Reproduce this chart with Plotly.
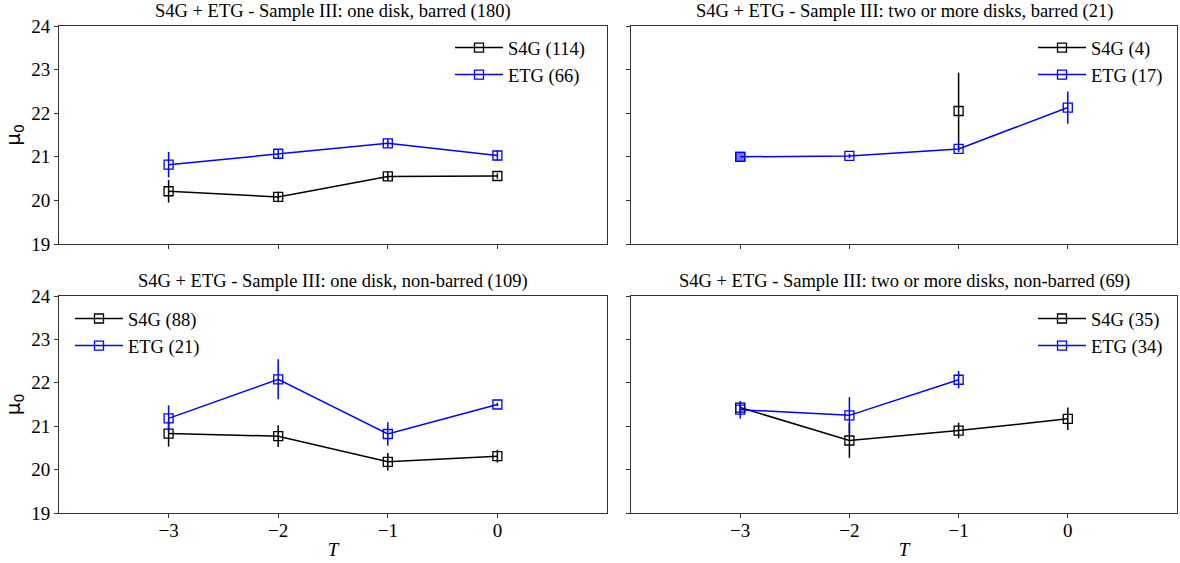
import plotly.graph_objects as go

# ---------------- data ----------------
# panel 1: one disk, barred (180)
p1_s4g_T = [-3, -2, -1, 0]
p1_s4g_mu = [20.21, 20.08, 20.55, 20.56]
p1_s4g_err = [0.26, 0.12, 0.10, 0.06]
p1_etg_T = [-3, -2, -1, 0]
p1_etg_mu = [20.82, 21.07, 21.31, 21.03]
p1_etg_err = [0.29, 0.10, 0.10, 0.12]

# panel 2: two or more disks, barred (21)
p2_s4g_T = [-1]
p2_s4g_mu = [22.05]
p2_s4g_err = [0.88]
p2_etg_T = [-3, -2, -1, 0]
p2_etg_mu = [21.00, 21.02, 21.18, 22.13]
p2_etg_err = [0.0, 0.05, 0.07, 0.37]

# panel 3: one disk, non-barred (109)
p3_s4g_T = [-3, -2, -1, 0]
p3_s4g_mu = [20.83, 20.77, 20.18, 20.31]
p3_s4g_err = [0.30, 0.25, 0.20, 0.15]
p3_etg_T = [-3, -2, -1, 0]
p3_etg_mu = [21.18, 22.08, 20.82, 21.50]
p3_etg_err = [0.30, 0.46, 0.27, 0.04]

# panel 4: two or more disks, non-barred (69)
p4_s4g_T = [-3, -2, -1, 0]
p4_s4g_mu = [21.43, 20.67, 20.90, 21.17]
p4_s4g_err = [0.10, 0.40, 0.18, 0.26]
p4_etg_T = [-3, -2, -1]
p4_etg_mu = [21.38, 21.25, 22.07]
p4_etg_err = [0.20, 0.42, 0.20]

titles = [
    "S4G + ETG - Sample III: one disk, barred (180)",
    "S4G + ETG - Sample III: two or more disks, barred (21)",
    "S4G + ETG - Sample III: one disk, non-barred (109)",
    "S4G + ETG - Sample III: two or more disks, non-barred (69)",
]
s4g_names = ["S4G (114)", "S4G (4)", "S4G (88)", "S4G (35)"]
etg_names = ["ETG (66)", "ETG (17)", "ETG (21)", "ETG (34)"]
y_ticks = [19, 20, 21, 22, 23, 24]
x_ticks = [-3, -2, -1, 0]
x_ticklabels = ["\u22123", "\u22122", "\u22121", "0"]

panels = [
    (p1_s4g_T, p1_s4g_mu, p1_s4g_err, p1_etg_T, p1_etg_mu, p1_etg_err),
    (p2_s4g_T, p2_s4g_mu, p2_s4g_err, p2_etg_T, p2_etg_mu, p2_etg_err),
    (p3_s4g_T, p3_s4g_mu, p3_s4g_err, p3_etg_T, p3_etg_mu, p3_etg_err),
    (p4_s4g_T, p4_s4g_mu, p4_s4g_err, p4_etg_T, p4_etg_mu, p4_etg_err),
]

W, H = 1180, 563
FONT = "'Liberation Serif', 'DejaVu Serif', 'Times New Roman', serif"

# pixel boxes of the panels (left, right, top, bottom)
boxes = [(59, 607, 26, 244), (631, 1177, 26, 244),
         (59, 607, 296, 513), (631, 1177, 296, 513)]

fig = go.Figure()
legend_ids = ["legend", "legend2", "legend3", "legend4"]

for i, (sT, smu, serr, eT, emu, eerr) in enumerate(panels):
    xa = "x" if i == 0 else f"x{i+1}"
    ya = "y" if i == 0 else f"y{i+1}"
    fig.add_trace(go.Scatter(
        x=sT, y=smu, mode="lines+markers", name=s4g_names[i],
        xaxis=xa, yaxis=ya, legend=legend_ids[i],
        line=dict(color="black", width=1.5),
        marker=dict(symbol="square-open", size=9, color="black", line=dict(width=1.3)),
        error_y=dict(type="data", array=serr, visible=True, color="black", thickness=1.5, width=0),
    ))
    fig.add_trace(go.Scatter(
        x=eT, y=emu, mode="lines+markers", name=etg_names[i],
        xaxis=xa, yaxis=ya, legend=legend_ids[i],
        line=dict(color="blue", width=1.5),
        marker=dict(symbol="square-open", size=9, color="blue", line=dict(width=1.3)),
        error_y=dict(type="data", array=eerr, visible=True, color="blue", thickness=1.5, width=0),
    ))
    # points with zero error look filled in the reference
    zT = [t for t, e in zip(eT, eerr) if e == 0]
    zmu = [m for m, e in zip(emu, eerr) if e == 0]
    if zT:
        fig.add_trace(go.Scatter(
            x=zT, y=zmu, mode="markers", showlegend=False,
            xaxis=xa, yaxis=ya,
            marker=dict(symbol="square", size=9, color="rgba(0,0,255,0.55)",
                        line=dict(width=1.3, color="blue")),
        ))

layout = dict(
    width=W, height=H,
    margin=dict(l=0, r=0, t=0, b=0, autoexpand=False),
    paper_bgcolor="white", plot_bgcolor="white",
    font=dict(family=FONT, size=16, color="black"),
    showlegend=True,
)

for i, (l, r, t, b) in enumerate(boxes):
    xk = "xaxis" if i == 0 else f"xaxis{i+1}"
    yk = "yaxis" if i == 0 else f"yaxis{i+1}"
    bottom = i >= 2
    left = i % 2 == 0
    layout[xk] = dict(
        domain=[l / W, r / W], range=[-4, 1], anchor="y" if i == 0 else f"y{i+1}",
        tickvals=x_ticks, ticktext=x_ticklabels, showticklabels=bottom,
        ticks="outside", ticklen=4, tickwidth=1, tickcolor="#333",
        showline=True, linecolor="#333", linewidth=1, mirror=True,
        showgrid=False, zeroline=False, automargin=False,
        tickfont=dict(family=FONT, size=19),
        ticklabelstandoff=-4,
        title=dict(text="<i>T</i>", font=dict(family=FONT, size=19), standoff=2) if bottom else None,
    )
    layout[yk] = dict(
        domain=[1 - b / H, 1 - t / H], range=[19, 24], anchor="x" if i == 0 else f"x{i+1}",
        tickvals=y_ticks, showticklabels=left,
        ticks="outside", ticklen=4, tickwidth=1, tickcolor="#333",
        showline=True, linecolor="#333", linewidth=1, mirror=True,
        showgrid=False, zeroline=False, automargin=False,
        tickfont=dict(family=FONT, size=19),
        title=dict(text="\u03bc<sub>0</sub>", font=dict(family="DejaVu Sans", size=20), standoff=5) if left else None,
    )

# legends
leg_common = dict(font=dict(family=FONT, size=18.5), bgcolor="rgba(255,255,255,0)",
                  borderwidth=0, tracegroupgap=0, itemwidth=48)
layout["legend"] = dict(leg_common, x=590 / W, xanchor="right", y=1 - 29 / H, yanchor="top")
layout["legend2"] = dict(leg_common, x=1168 / W, xanchor="right", y=1 - 29 / H, yanchor="top")
layout["legend3"] = dict(leg_common, x=70 / W, xanchor="left", y=1 - 300 / H, yanchor="top")
layout["legend4"] = dict(leg_common, x=1168 / W, xanchor="right", y=1 - 300 / H, yanchor="top")

annotations = []
for i, (l, r, t, b) in enumerate(boxes):
    annotations.append(dict(
        text=titles[i], xref="paper", yref="paper",
        x=(l + r) / 2 / W, y=1 - (t - 2) / H, xanchor="center", yanchor="bottom",
        showarrow=False, font=dict(family=FONT, size=18.5, color="black"),
    ))
layout["annotations"] = annotations

fig.update_layout(**layout)
fig.write_html("out.html")
